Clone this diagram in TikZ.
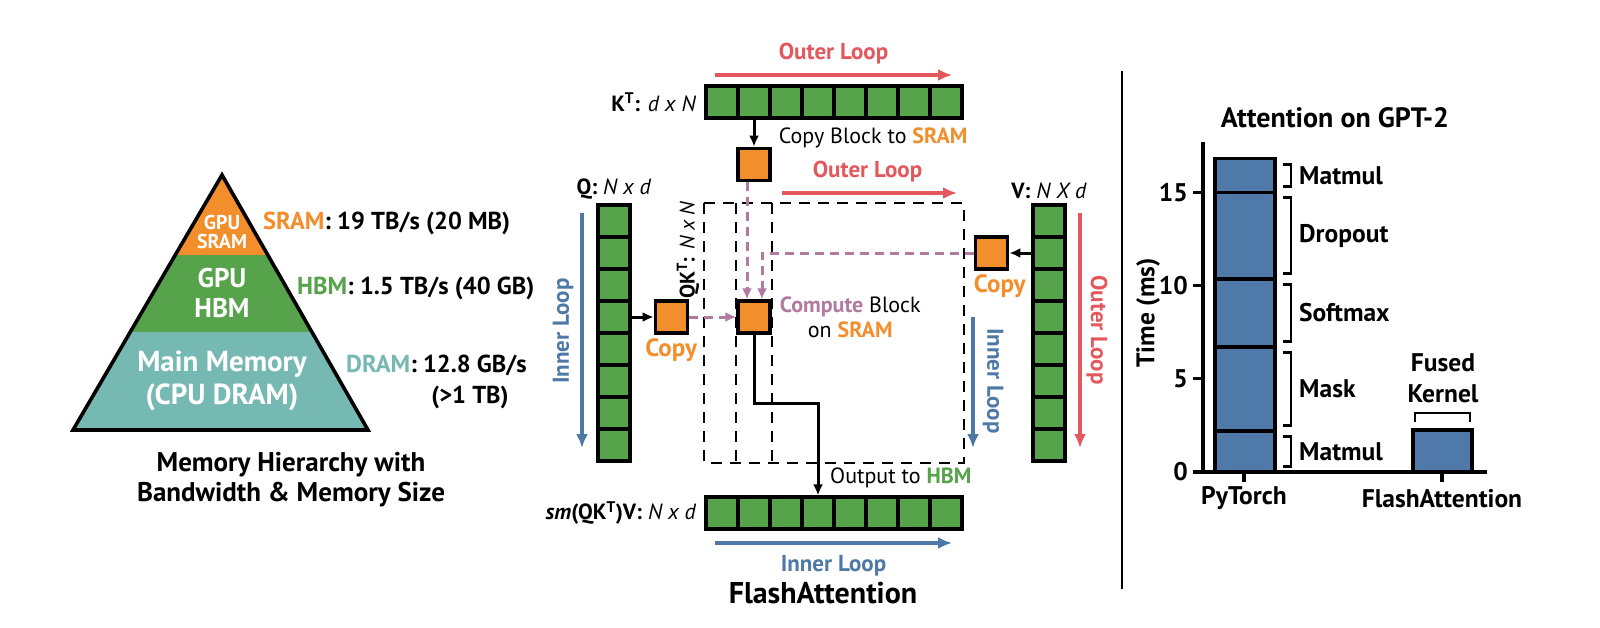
\documentclass[tikz,border=0pt]{standalone}
\usepackage{fontspec}
\setmainfont{PT Sans}
\usetikzlibrary{positioning, calc, arrows.meta}

\definecolor{cellgreen}{RGB}{87,163,76}
\definecolor{blockorange}{RGB}{242,142,43}
\definecolor{dramteal}{RGB}{118,185,178}
\definecolor{loopred}{RGB}{228,87,92}
\definecolor{loopblue}{RGB}{78,121,167}
\definecolor{computepurple}{RGB}{176,122,161}
\definecolor{barblue}{RGB}{79,121,168}

\newcommand{\fsz}[1]{\fontsize{#1}{#1}\selectfont}

\begin{document}
\begin{tikzpicture}[
  x=1pt, y=-1pt,
  >=Latex,
  cell/.style={rectangle, draw, line width=3.2pt, fill=cellgreen, minimum size=32pt, inner sep=0pt},
  block/.style={rectangle, draw, line width=3.2pt, fill=blockorange, minimum size=32pt, inner sep=0pt},
  arrow/.style={-{Latex[length=11pt, width=10pt]}, line width=3pt},
  flow/.style={-{Latex[length=11pt, width=10pt]}, line width=3pt, dash pattern=on 9pt off 6pt, computepurple},
  outerloop/.style={-{Latex[length=14pt, width=12pt]}, line width=3.2pt, loopred},
  innerloop/.style={-{Latex[length=14pt, width=12pt]}, line width=3.2pt, loopblue},
  grid/.style={line width=1.9pt, dash pattern=on 11pt off 8pt},
  lbl/.style={font=\fsz{22}, inner sep=0pt},
  looplbl/.style={font=\fsz{23}\bfseries, inner sep=0pt},
  copylbl/.style={font=\fsz{25}\bfseries, text=blockorange, inner sep=0pt},
  memlbl/.style={font=\fsz{24.5}\bfseries, inner sep=0pt},
  chartlbl/.style={font=\fsz{25.5}\bfseries, inner sep=0pt},
  bar/.style={draw, fill=barblue, line width=3.4pt},
  axis/.style={line width=3.4pt},
  bracket/.style={line width=2.8pt}
]
\useasboundingbox[fill=white] (0,0) rectangle (1600,627);

%--------------------------------------
% Memory pyramid
%--------------------------------------
\coordinate (apex) at (222,175);
\coordinate (baseL) at (73,430);
\coordinate (baseR) at (368,430);
\coordinate (sramL) at ($(apex)!0.3137!(baseL)$);
\coordinate (sramR) at ($(apex)!0.3137!(baseR)$);
\coordinate (hbmL) at ($(apex)!0.6157!(baseL)$);
\coordinate (hbmR) at ($(apex)!0.6157!(baseR)$);
\fill[blockorange] (apex) -- (sramL) -- (sramR) -- cycle;
\fill[cellgreen] (sramL) -- (hbmL) -- (hbmR) -- (sramR) -- cycle;
\fill[dramteal] (hbmL) -- (baseL) -- (baseR) -- (hbmR) -- cycle;
\draw[line width=3.6pt] (apex) -- (baseL) -- (baseR) -- cycle;

\node[font=\fsz{20}\bfseries, text=white, align=center, inner sep=0pt] (gpusram) at (222,232) {GPU\\[-1pt]SRAM};
\node[font=\fsz{27}\bfseries, text=white, align=center, inner sep=0pt] (gpuhbm) at (222,293) {GPU\\[3pt]HBM};
\node[font=\fsz{29}\bfseries, text=white, align=center, inner sep=0pt] (cpudram) at (222,381) {Main Memory\\[4pt](CPU DRAM)};

\node[memlbl, anchor=west] (sramspec) at (263,223) {\textcolor{blockorange}{SRAM}: 19 TB/s (20 MB)};
\node[memlbl, anchor=west] (hbmspec) at (297,288) {\textcolor{cellgreen}{HBM}: 1.5 TB/s (40 GB)};
\node[memlbl, anchor=west] (dramspec) at (346,365) {\textcolor{dramteal}{DRAM}: 12.8 GB/s};
\node[memlbl] (dramsize) at (470,397) {(>1 TB)};

\node[font=\fsz{27}\bfseries, align=center, inner sep=0pt] (memcaption) at (291,480) {Memory Hierarchy with\\[3pt]Bandwidth \& Memory Size};

%--------------------------------------
% FlashAttention blocks
%--------------------------------------
\foreach \i in {1,...,8} {
  \node[cell] (k\i) at ({722+32*(\i-1)},102) {};
  \node[cell] (o\i) at ({722+32*(\i-1)},513) {};
  \node[cell] (q\i) at (614,{221+32*(\i-1)}) {};
  \node[cell] (v\i) at (1049,{221+32*(\i-1)}) {};
}

\node[lbl, left=8pt of k1] (klabel) {\textbf{K\textsuperscript{T}:} \textit{d x N}};
\node[lbl, above=4pt of q1] (qlabel) {\textbf{Q:} \textit{N x d}};
\node[lbl, above=4pt of v1] (vlabel) {\textbf{V:} \textit{N X d}};
\node[lbl, left=8pt of o1] (olabel) {\textbf{\textit{sm}(QK\textsuperscript{T})V:} \textit{N x d}};

% QK^T grid
\draw[grid] (k1.west |- q1.north) rectangle (k8.east |- q8.south);
\draw[grid] (k2.west |- q1.north) -- (k2.west |- q8.south);
\draw[grid] (k2.east |- q1.north) -- (k2.east |- q8.south);
\node[lbl, font=\fsz{21}, rotate=90] (qklabel) at (688,250) {\textbf{QK\textsuperscript{T}:} \textit{N x N}};

% SRAM blocks
\node[block, below=27pt of k2] (kcopy) {};
\node[block, right=22pt of q4] (qcopy) {};
\node[block, left=22pt of v2] (vcopy) {};
\node[block] (comp) at (k2 |- q4) {};

\node[copylbl, below=4pt of qcopy] (qcopytext) {Copy};
\node[copylbl, below=4pt of vcopy, xshift=8pt] (vcopytext) {Copy};
\node[lbl, anchor=west] (kcopytext) at ([shift={(7,-9)}]kcopy.north east) {Copy Block to \textcolor{blockorange}{\textbf{SRAM}}};
\node[lbl, align=center, right=8pt of comp] (comptext) {\textcolor{computepurple}{\textbf{Compute}} Block\\[3pt]on \textcolor{blockorange}{\textbf{SRAM}}};
\node[lbl, anchor=west] (outtext) at ([shift={(12,-18)}]o4.north) {Output to \textcolor{cellgreen}{\textbf{HBM}}};

% data movement
\draw[arrow] (k2.south) -- (kcopy.north);
\draw[arrow] (q4.east) -- (qcopy.west);
\draw[arrow] (v2.west) -- (vcopy.east);
\draw[flow] ([xshift=-7pt]kcopy.south) -- ([xshift=-7pt]comp.north);
\draw[flow] (vcopy.west) -| ([xshift=8pt]comp.north);
\draw[flow] (qcopy.east) -- (comp.west);
\draw[arrow] (comp.south) -- ++(0,69) -| (o4.north);

% loops
\coordinate (kloopW) at (715,75);
\coordinate (kloopE) at (952,75);
\coordinate (gridloopW) at (782,193);
\coordinate (gridloopE) at (957,193);
\coordinate (qloopN) at (582,213);
\coordinate (qloopS) at (582,448);
\coordinate (vloopN) at (1080,213);
\coordinate (vloopS) at (1080,448);
\coordinate (ginnerN) at (973,317);
\coordinate (ginnerS) at (973,448);
\coordinate (oloopW) at (715,543);
\coordinate (oloopE) at (952,543);

\draw[outerloop] (kloopW) -- node[looplbl, text=loopred, above=9pt] (kloopText) {Outer Loop} (kloopE);
\draw[outerloop] (gridloopW) -- node[looplbl, text=loopred, above=9pt, xshift=-2pt] (gridloopText) {Outer Loop} (gridloopE);
\draw[innerloop] (qloopN) -- (qloopS);
\node[looplbl, text=loopblue, rotate=90] (qloopText) at (563,331) {Inner Loop};
\draw[outerloop] (vloopN) -- (vloopS);
\node[looplbl, text=loopred, rotate=-90] (vloopText) at (1097,330) {Outer Loop};
\draw[innerloop] (ginnerN) -- (ginnerS);
\node[looplbl, text=loopblue, rotate=-90] (ginnerText) at (993,381) {Inner Loop};
\draw[innerloop] (oloopW) -- node[looplbl, text=loopblue, below=11pt] (oloopText) {Inner Loop} (oloopE);

\node[font=\fsz{30}\bfseries, inner sep=0pt] (flashtitle) at (823,593) {FlashAttention};

% separator
\draw[line width=2.8pt] (1122,71) -- (1122,589);

%--------------------------------------
% Runtime chart
%--------------------------------------
\begin{scope}[shift={(1203,472)}, x=1pt, y=18.65pt]
  \foreach \lo/\hi in {0/2.2, 2.2/6.7, 6.7/10.35, 10.35/15, 15/16.8}
    \draw[bar] (12,\lo) rectangle (72,\hi);
  \draw[bar] (210,0) rectangle (269,2.25);
  \draw[axis] (0,17.7) -- (0,0) -- (284,0);
  \foreach \v in {0,5,10,15} {
    \draw[axis] (-10,\v) -- (0,\v);
    \node[chartlbl, anchor=east] (tick\v) at (-15,\v) {\v};
  }
  \draw[axis] (41,0) -- (41,-0.55);
  \draw[axis] (239,0) -- (239,-0.55);
  \node[chartlbl] (torchlbl) at (41,-1.4) {PyTorch};
  \node[chartlbl] (flashlbl) at (239,-1.4) {FlashAttention};
  \node[chartlbl, rotate=90] (timelbl) at (-55,8.53) {Time (ms)};
  \node[chartlbl, font=\fsz{28}\bfseries] (charttitle) at (132,18.98) {Attention on GPT-2};
  \foreach \lo/\hi/\op in {0/2.2/Matmul, 2.2/6.7/Mask, 6.7/10.35/Softmax, 10.35/15/Dropout, 15/16.8/Matmul} {
    \draw[bracket] (80,{\lo+0.3}) -- (88,{\lo+0.3}) -- (88,{\hi-0.3}) -- (80,{\hi-0.3});
    \node[chartlbl, anchor=west] at (96,{(\lo+\hi)/2}) {\op};
  }
  \draw[bracket] (212,2.7) -- (212,3.16) -- (267,3.16) -- (267,2.7);
  \node[chartlbl, align=center] (fusedlbl) at (240,5.04) {Fused\\[6pt]Kernel};
\end{scope}

\end{tikzpicture}
\end{document}
